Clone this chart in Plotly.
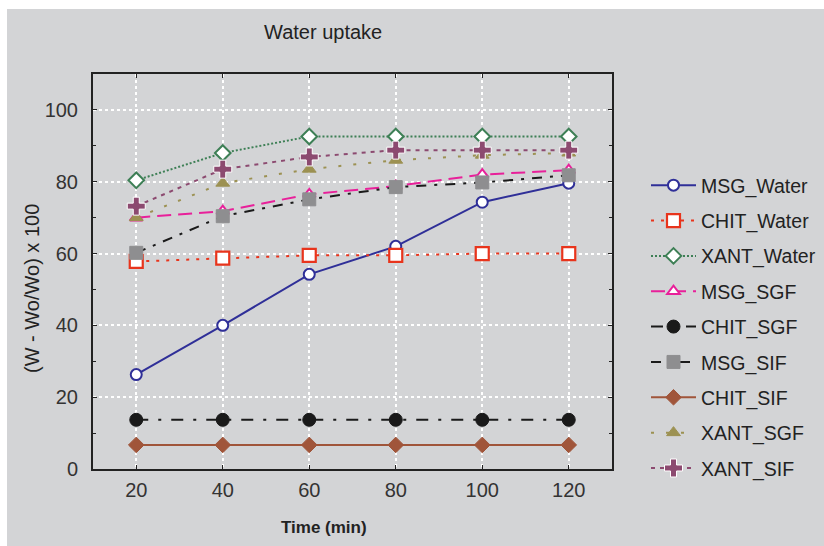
import plotly.graph_objects as go

time_min = [20, 40, 60, 80, 100, 120]

msg_water = [26.3, 40.0, 54.2, 62.0, 74.3, 79.6]
chit_water = [57.8, 58.7, 59.5, 59.5, 60.0, 60.0]
xant_water = [80.4, 88.0, 92.6, 92.6, 92.6, 92.6]
msg_sgf = [70.0, 71.8, 76.5, 78.8, 82.0, 83.2]
chit_sgf = [13.7, 13.7, 13.7, 13.7, 13.7, 13.7]
msg_sif = [60.2, 70.4, 75.1, 78.5, 79.8, 81.8]
chit_sif = [6.7, 6.7, 6.7, 6.7, 6.7, 6.7]
xant_sgf = [70.0, 79.6, 83.5, 86.0, 87.4, 88.0]
xant_sif = [73.2, 83.5, 86.9, 88.8, 88.8, 88.8]

y_ticks = [0, 20, 40, 60, 80, 100]
x_ticks = [20, 40, 60, 80, 100, 120]

BG = "#d3d4d6"
FONT = "Liberation Sans, Arial, sans-serif"

series = [
    ("MSG_Water", msg_water, "#2f2f98", "solid", "circle", 11, "white", "#2f2f98", 2),
    ("CHIT_Water", chit_water, "#e8341c", "3px,7px", "square", 13, "white", "#e8341c", 2.2),
    ("XANT_Water", xant_water, "#3d7f55", "2px,2px", "diamond", 12, "white", "#3d7f55", 2),
    ("MSG_SGF", msg_sgf, "#e8209a", "14px,7px", "triangle-up", 11, "white", "#e8209a", 2),
    ("CHIT_SGF", chit_sgf, "#1a1a1a", "12px,10px,3px,10px", "circle", 13, "#1a1a1a", "#1a1a1a", 1),
    ("MSG_SIF", msg_sif, "#1a1a1a", "10px,8px,3px,8px", "square", 13, "#8e8e90", "#8e8e90", 1),
    ("CHIT_SIF", chit_sif, "#a0553a", "solid", "diamond", 12, "#a0553a", "#a0553a", 1),
    ("XANT_SGF", xant_sgf, "#9c9152", "3px,12px", "triangle-up", 12, "#9c9152", "#9c9152", 1),
    ("XANT_SIF", xant_sif, "#8c4a70", "4px,5px", "cross", 15, "#8c4a70", "white", 1),
]

fig = go.Figure()
for i, (name, ys, col, dash, sym, size, fill, lcol, lw) in enumerate(series):
    fig.add_trace(go.Scatter(
        x=time_min, y=ys, name=name, mode="lines+markers",
        line=dict(color=col, width=2, dash=dash),
        marker=dict(symbol=sym, size=size, color=fill, line=dict(color=lcol, width=lw)),
        legendgroup=f"g{i}",
    ))

L, R, T, B = 93, 212, 74, 77
W, H = 824, 546
pw, ph = W - L - R, H - T - B

def px(x):
    return (x - L) / pw

def py(y):
    return (H - B - y) / ph

fig.update_layout(
    width=W, height=H,
    margin=dict(l=L, r=R, t=T, b=B, pad=0, autoexpand=False),
    paper_bgcolor="white", plot_bgcolor=BG,
    font=dict(family=FONT, size=20, color="#222222"),
    showlegend=True,
    legend=dict(
        x=px(821), y=py(166), xanchor="right", yanchor="top",
        bgcolor="rgba(0,0,0,0)", font=dict(size=19.5, family=FONT, color="#222222"),
        tracegroupgap=7, itemwidth=45, traceorder="grouped",
    ),
    xaxis=dict(
        range=[10, 130], tickvals=x_ticks, showgrid=True,
        gridcolor="white", griddash="dot", gridwidth=1.5,
        showline=True, linecolor="#222222", linewidth=2, mirror="ticks",
        ticks="inside", ticklen=4, tickcolor="#222222", zeroline=False,
        tickfont=dict(size=20, color="#333333"), ticklabelstandoff=2,
    ),
    yaxis=dict(
        range=[0, 110], tickvals=y_ticks, showgrid=True,
        gridcolor="white", griddash="dot", gridwidth=1.5,
        showline=True, linecolor="#222222", linewidth=2, mirror="ticks",
        ticks="inside", ticklen=4, tickcolor="#222222", zeroline=False,
        tickfont=dict(size=20, color="#333333"), ticklabelstandoff=9,
        minor=dict(ticks="inside", dtick=10, ticklen=3, tickcolor="#222222", showgrid=False),
    ),
    shapes=[
        dict(type="rect", xref="paper", yref="paper", x0=px(7), x1=px(W), y0=py(H), y1=py(9),
             fillcolor=BG, line=dict(width=0), layer="below"),
    ],
    annotations=[
        dict(text="Water uptake", x=px(323), y=py(32), xref="paper", yref="paper",
             showarrow=False, font=dict(size=20, color="#222222"), xanchor="center", yanchor="middle"),
        dict(text="<b>Time (min)</b>", x=px(324), y=py(527), xref="paper", yref="paper",
             showarrow=False, font=dict(size=17, color="#222222"), xanchor="center", yanchor="middle"),
        dict(text="(W - Wo/Wo) x 100", x=px(32), y=py(289), xref="paper", yref="paper",
             showarrow=False, textangle=-90, font=dict(size=20, color="#222222"),
             xanchor="center", yanchor="middle"),
    ],
)

fig.write_html("out.html")
